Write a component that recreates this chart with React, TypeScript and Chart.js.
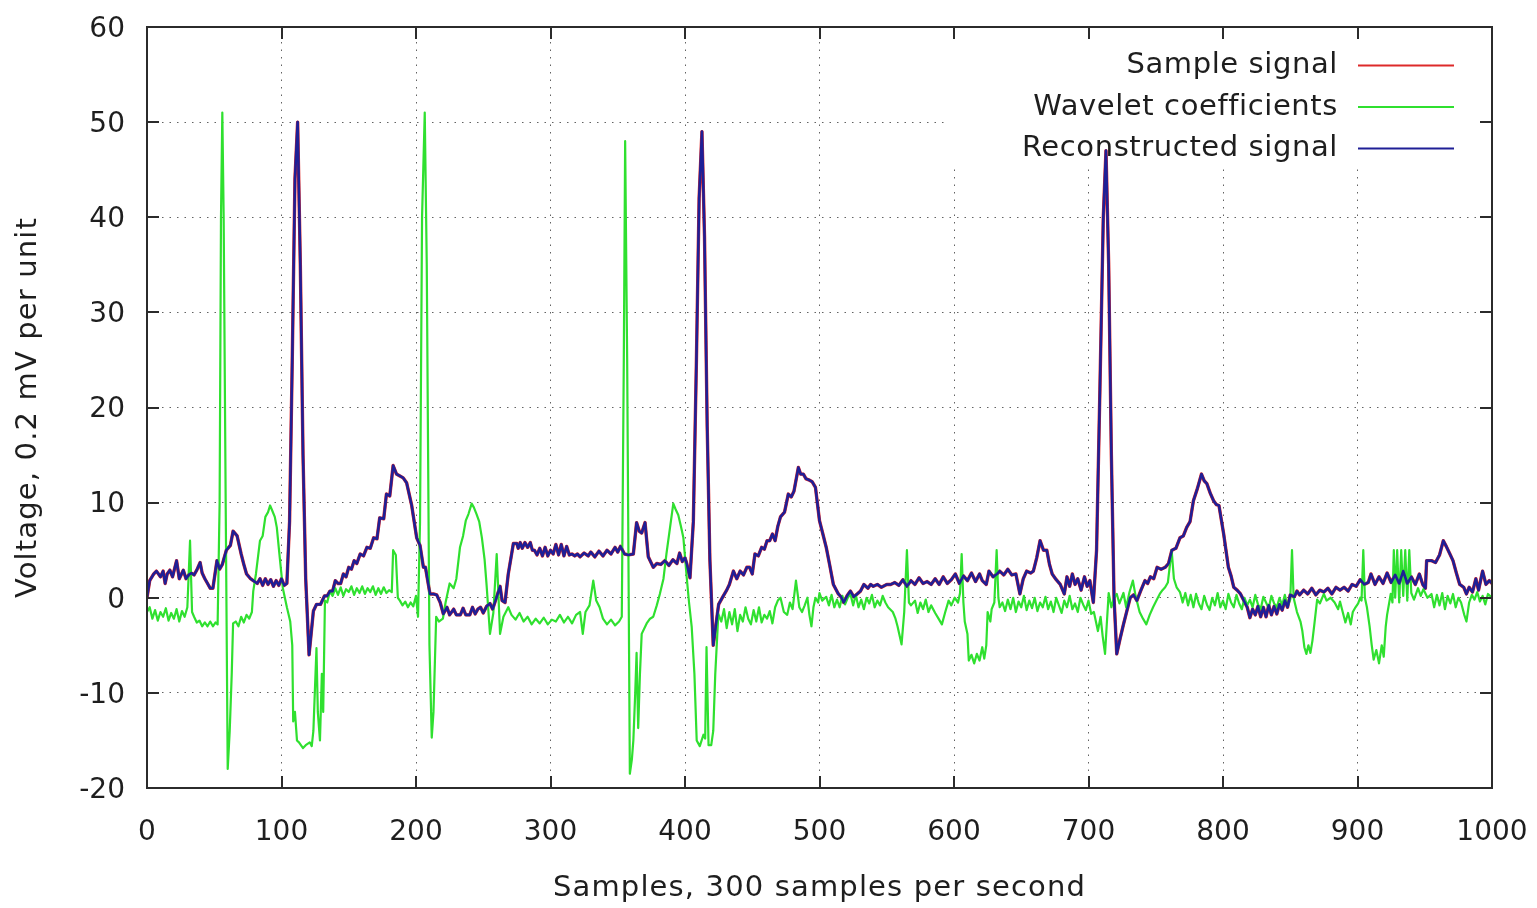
import { useEffect, useRef } from 'react';
import { Chart, registerables } from 'chart.js';

Chart.register(...registerables);

const seriesLabels = ['Sample signal', 'Wavelet coefficients', 'Reconstructed signal'];
const seriesColors = ['#dd2a2a', '#2fe02f', '#1f1f96'];
const xAxisTitle = 'Samples, 300 samples per second';
const yAxisTitle = 'Voltage, 0.2 mV per unit';
const xRange = [0, 1000];
const yRange = [-20, 60];
const xStep = 100;
const yStep = 10;

// Reconstructed signal [sample, value]
const reconstructedPoints: [number, number][] = [
  [0, 0], [2, 1.8], [5, 2.5], [7, 2.8], [10, 2.2], [12, 2.8], [13.5, 1.5], [15, 2.5], [17, 2.9], [19, 2.2],
  [22, 3.9], [24, 2.0], [27, 2.9], [29, 2.0], [31, 2.4], [33, 2.6], [35, 2.4], [37, 2.9], [39.5, 3.7], [41, 2.6],
  [43, 2.0], [45, 1.5], [47, 1.0], [49, 1.0], [52, 3.9], [54, 3.0], [56, 3.5], [59, 5.0], [62, 5.5], [64, 7.0],
  [67, 6.5], [70, 4.6], [72, 3.5], [74, 2.5], [77, 2.0], [79, 1.8], [82, 1.5], [84, 2.0], [86, 1.3], [88, 2.0],
  [90, 1.4], [92, 1.9], [94, 1.2], [96, 1.8], [98, 1.3], [100, 2.0], [102, 1.3], [104, 1.5], [106, 8], [108, 25],
  [110, 44], [112, 50], [114, 35], [116, 15], [118, 2], [120.5, -6], [123.7, -1.4], [126, -0.7], [129, -0.7], [132, 0.2],
  [134, 0.2], [136, 0.7], [138, 0.7], [140, 1.8], [142, 1.5], [144, 1.5], [146, 2.5], [148, 2.2], [150, 3.2], [152, 3.0],
  [154, 3.9], [156, 3.6], [158.5, 4.6], [161, 4.4], [163.5, 5.3], [166, 5.2], [168.5, 6.3], [171, 6.2], [173, 8.4], [176, 8.3],
  [178, 10.9], [180.5, 10.7], [183, 13.9], [185.5, 13.0], [188, 12.8], [190.5, 12.6], [193, 12.1], [196.8, 9.7], [200.5, 6.3], [203, 5.5],
  [205.5, 3.2], [207, 3.2], [210.4, 0.4], [213, 0.4], [215.4, 0.3], [218, -0.5], [220.3, -1.7], [223, -1.0], [225, -1.8], [228, -1.2],
  [230, -1.8], [233, -1.8], [235, -1.1], [237, -1.8], [240, -1.8], [242, -1.0], [244, -1.7], [246, -1.2], [248, -1.0], [250, -1.6],
  [252.5, -0.9], [255, -0.6], [257, -1.2], [260, 0.1], [262.5, 1.2], [264, -0.3], [266.2, -0.5], [268.6, 2.5], [272.4, 5.7], [275, 5.7],
  [276, 5.2], [277.5, 5.8], [279, 5.2], [281, 5.8], [283, 5.3], [285, 5.8], [286.5, 5.0], [288, 5.0], [290, 4.5], [292, 5.2],
  [294, 4.4], [296, 5.3], [298, 4.4], [300, 5.0], [302, 4.6], [304, 5.6], [306, 4.5], [308, 5.6], [310, 4.4], [312, 5.4],
  [314, 4.5], [316, 4.6], [318, 4.4], [320, 4.6], [322, 4.3], [325, 4.7], [328, 4.4], [330, 4.8], [333, 4.3], [336, 4.9],
  [339, 4.4], [342, 5.0], [345, 4.6], [348, 5.3], [350, 4.8], [352, 5.4], [355, 4.6], [358, 4.5], [361.6, 4.6], [364, 7.9],
  [366, 7.0], [367.8, 6.8], [370.3, 7.9], [372.7, 4.3], [376.4, 3.2], [379, 3.6], [382, 3.5], [385, 3.9], [388, 3.4], [391, 4.0],
  [394, 3.6], [396, 4.7], [398, 3.8], [400, 4.2], [401.3, 3.6], [403.7, 2.1], [406.2, 8], [408.5, 25], [410.5, 42], [412.6, 49],
  [414.5, 38], [416.5, 18], [418.5, 4], [421, -5], [425, -0.7], [428.5, 0.2], [431, 0.8], [433, 1.4], [436, 2.8], [438.5, 2.0],
  [441, 2.8], [443.5, 2.4], [446, 3.2], [448, 3.2], [450, 2.5], [452, 4.6], [454.5, 4.4], [457, 5.3], [459, 5.1], [461, 6.0],
  [463, 6.0], [465, 6.7], [467, 6.0], [469, 7.5], [471, 8.5], [474, 9.0], [476.8, 10.9], [479, 10.6], [481, 11.2], [484.3, 13.7],
  [486, 13.0], [488, 13.0], [490, 12.5], [492, 12.4], [494.5, 12.2], [497, 11.6], [500, 8.1], [502.5, 6.7], [505, 5.3], [507.5, 3.5],
  [510.3, 1.4], [514, 0.4], [516, 0.1], [518, -0.5], [520.5, 0.2], [523, 0.7], [525.5, 0.1], [528, 0.4], [530.5, 0.7], [533, 1.4],
  [536, 1.0], [538, 1.4], [540, 1.2], [543, 1.4], [546, 1.1], [550, 1.4], [553, 1.4], [556, 1.6], [559, 1.3], [562, 1.9],
  [565, 1.2], [568, 1.8], [571, 1.4], [574, 2.1], [577, 1.5], [580, 1.7], [583, 1.4], [586, 2.0], [589, 1.4], [592, 2.2],
  [595, 1.5], [598, 1.9], [601, 2.5], [604, 1.5], [607, 2.3], [610, 1.8], [613, 2.6], [616, 1.7], [619, 2.5], [621, 1.8],
  [624, 1.4], [626, 2.8], [629, 2.2], [632, 2.5], [634, 2.8], [637, 2.4], [640, 3.0], [643, 2.4], [646, 2.5], [649, 0.4],
  [651.5, 2.0], [654, 2.8], [657, 2.6], [659, 2.8], [661.5, 4.2], [664, 6.0], [666.5, 5.0], [669, 5.0], [671, 3.5], [673, 2.5],
  [676, 1.9], [679, 1.4], [682, 0.4], [684, 2.2], [686, 1.2], [688, 2.5], [690, 1.4], [692, 2.0], [694.5, 0.8], [697, 2.2],
  [699, 1.2], [701, 1.8], [703.6, -0.5], [706, 5], [708.5, 22], [711, 40], [713, 47], [715, 35], [717, 15], [719, 0],
  [721, -5.9], [723.5, -4.3], [726, -2.8], [728.5, -1.4], [731, 0], [733.5, 0.3], [736, -0.3], [739, 0.8], [742, 1.8], [744, 1.5],
  [746, 2.2], [748.5, 2.0], [751, 3.2], [754, 3.0], [757, 3.2], [759.5, 3.6], [762, 5.0], [765, 5.2], [768, 6.3], [770.5, 6.5],
  [773, 7.4], [775.5, 8.0], [778, 10.2], [781, 11.5], [784, 13.0], [786, 12.3], [788, 12.0], [790.5, 11.0], [793, 10.2], [795, 9.8],
  [797, 9.7], [800.5, 6.7], [804, 3.2], [806, 2.3], [808, 1.1], [810.5, 0.8], [813, 0.4], [815.5, -0.3], [818, -1.0], [820, -2.1],
  [822, -1.2], [824, -1.8], [826, -0.9], [828, -2.0], [830, -1.0], [832, -2.0], [834, -0.8], [836, -1.8], [838, -0.9], [840, -1.7],
  [842, -0.7], [844, -1.3], [846, -0.3], [848, -1.0], [850, 0.3], [853, 0.1], [855, 0.7], [857, 0.3], [860, 0.8], [863, 0.4],
  [866, 1.0], [869, 0.3], [872, 0.8], [875, 0.6], [878, 1.0], [881, 0.4], [884, 1.1], [887, 0.8], [890, 1.1], [893, 0.7],
  [896, 1.4], [899, 1.2], [902, 1.9], [905, 1.4], [908, 1.6], [910, 2.5], [913, 1.4], [916, 2.2], [919, 1.5], [922, 2.6],
  [925, 1.6], [928, 2.4], [931, 1.5], [934, 2.8], [937, 1.5], [940, 2.2], [943, 1.4], [946, 2.5], [948.5, 1.4], [950.5, 1.0],
  [951.4, 3.9], [955, 3.9], [958, 3.7], [961, 4.5], [963.8, 6.0], [966, 5.4], [968.7, 4.6], [971, 3.9], [973.5, 2.6], [976, 1.4],
  [979, 1.1], [981, 0.4], [983, 1.1], [985.5, 0.6], [988, 2.0], [990, 0.8], [993, 2.8], [995.5, 1.4], [998, 1.8], [1000, 1.5],
];

// The sample signal is hidden beneath the reconstruction in the picture
const samplePoints: [number, number][] = reconstructedPoints;

// Wavelet coefficients [sample, value]
const waveletPoints: [number, number][] = [
  [0, -1.5], [2, -1.0], [4, -2.2], [6, -1.3], [8, -2.4], [10, -1.5], [12, -2.0], [14, -1.1], [16, -2.4], [18, -1.6],
  [20, -2.2], [22, -1.2], [24, -2.5], [26, -1.4], [28, -2.0], [30, -1.0], [32, 6.0], [33.5, -1.5], [35, -2.0], [37, -2.6],
  [39, -2.4], [41, -3.0], [43, -2.6], [45, -3.0], [47, -2.5], [49, -3.0], [51, -2.6], [52.5, -2.8], [54, 10], [55, 40],
  [56, 51], [57, 40], [58.5, 10], [60, -18], [61.5, -14], [63, -8], [64, -2.7], [66, -2.5], [68, -3.0], [70, -2.0],
  [72, -2.6], [74, -1.8], [76, -2.2], [78, -1.5], [79, 0.7], [81, 2.5], [84, 6.0], [86, 6.5], [88, 8.5], [90, 9.0],
  [91.5, 9.7], [93, 9.2], [95, 8.5], [96.5, 7.4], [98.5, 4.5], [101, 1.0], [104, -1.0], [106.5, -2.5], [108, -5], [108.7, -13],
  [110, -12], [111.5, -15], [113, -15.2], [116, -15.8], [118, -15.5], [121, -15.2], [122.5, -15.6], [123.7, -14], [126, -5.3], [127, -12],
  [128.6, -15], [130, -8], [131, -12], [132.3, -0.3], [134, -0.5], [136, 0.7], [138, 0.2], [140, 1.0], [142, 0.3], [144, 1.1],
  [146, 0.2], [148, 0.9], [150, 0.6], [152, 1.2], [154, 0.3], [156, 1.0], [158, 0.5], [160, 1.2], [162, 0.4], [164, 1.0],
  [166, 0.6], [168, 1.2], [170, 0.3], [172, 1.0], [174, 0.4], [176, 1.1], [178, 0.5], [180, 0.8], [182, 0.6], [183, 5.0],
  [185, 4.5], [186.5, 0], [188, -0.3], [190, -0.8], [192, -0.4], [194, -1.0], [196, -0.5], [198, -0.9], [200, 0.2], [201.5, -2.0],
  [203, 8], [204.5, 40], [206.5, 51], [208, 35], [210, -5], [211.7, -14.7], [213, -12], [215, -2.0], [217, -2.5], [220, -2.2],
  [222, -0.5], [225, 1.5], [228, 1.0], [230, 2.0], [232.7, 5.3], [235, 6.5], [237, 8.1], [239, 8.8], [241.4, 9.9], [243, 9.5],
  [245, 8.8], [247, 8.0], [249, 6.3], [251, 4.0], [252.5, 1.3], [255, -3.8], [257.5, -1.6], [260, 4.6], [262.5, -3.8], [265, -2.0],
  [268.6, -1.0], [271, -1.8], [274, -2.3], [277, -1.6], [280, -2.5], [283, -2.0], [286, -2.8], [289, -2.2], [292, -2.7], [295, -2.1],
  [298, -2.8], [301, -2.3], [304, -2.5], [307, -1.8], [310, -2.6], [313, -2.0], [316, -2.7], [319, -1.8], [322, -1.5], [324, -3.8],
  [326, -1.5], [329, -0.8], [331.8, 1.8], [334, -0.3], [336.5, -1.0], [339, -2.2], [342, -2.8], [345, -2.3], [348, -2.9], [351, -2.5],
  [353, -2.0], [354.5, 25], [355.5, 48], [357, 25], [359, -18.5], [360.5, -17], [361.6, -15], [363, -10], [364, -5.8], [365.2, -13.7],
  [366.5, -8], [367.8, -3.8], [371.5, -2.7], [374, -2.2], [376.4, -2.0], [379, -0.8], [381.3, 0.4], [384, 2.0], [386.2, 4.6], [388.5, 7.0],
  [391.3, 9.9], [393, 9.3], [395, 8.7], [397, 7.5], [398.8, 6.3], [401.3, 2.1], [403, -0.5], [405, -3.1], [407, -8], [408.7, -15],
  [411, -15.6], [413.7, -14.4], [415, -14.8], [416, -5.2], [417.5, -15.5], [419.5, -15.5], [421, -14], [422.5, -8], [424.8, -1.7], [427, -2.5],
  [429, -1.2], [431, -3.2], [433, -1.5], [435, -2.8], [437, -1.2], [439, -3.5], [441, -1.8], [443, -2.5], [445, -1.0], [447, -2.2],
  [449, -2.8], [451, -1.3], [453, -2.5], [455, -1.0], [457, -2.6], [459, -1.8], [461, -2.2], [463, -1.4], [465, -2.7], [467, -1.0],
  [469, -0.3], [471, 0.0], [473.5, -1.5], [476, -1.8], [478, -0.5], [480, -1.2], [482.5, 1.8], [485, -1.0], [487, -1.5], [489, -0.8],
  [491, 0.0], [492.5, -1.8], [494, -3.0], [495.5, -1.0], [497, 0.0], [499, -0.5], [500, 0.5], [502, -0.3], [505, 0.1], [507, -0.8],
  [509, 0.3], [511, -1.0], [513, -0.2], [515, -1.0], [517, 0.2], [519, -0.7], [521, 0.0], [523, 0.4], [525, -0.8], [527, 0.3],
  [529, -1.0], [531, -0.2], [533, -1.2], [535, 0.0], [537, -0.6], [539, 0.3], [541, -1.0], [543, -0.3], [545, -0.8], [547, 0.2],
  [549, -0.5], [551, -1.0], [554.5, -1.5], [556.5, -2.2], [558, -3.0], [561, -4.9], [563, -1.5], [565, 5.0], [566.5, -0.5], [568, -0.8],
  [571, -0.3], [573, -1.6], [575, -0.5], [577, -1.2], [579, -0.2], [581, -1.5], [583, -0.8], [586, -1.6], [588.5, -2.2], [591, -2.8],
  [593.5, -1.5], [596, -0.3], [598, -0.8], [600.5, 0.0], [603, -0.5], [604.5, 0.5], [605.7, 4.6], [607, -0.5], [608, -2.5], [610, -3.8],
  [611, -6.6], [613, -6.0], [615, -6.9], [617, -5.9], [619, -6.6], [621, -5.2], [622.5, -6.4], [624, -5.0], [625, -1.5], [627, -2.5],
  [628, -1.2], [630, -0.5], [631.7, 5.0], [633, 0.0], [634, -1.0], [636, -0.5], [638, -1.4], [640, -0.2], [642, -1.2], [644, 0.0],
  [646, -1.5], [648, -0.4], [650, -1.0], [652, 0.2], [654, -1.3], [656, -0.3], [658, -1.1], [660, 0.0], [662, -1.4], [664, -0.5],
  [666, -1.0], [668, 0.1], [670, -1.2], [672, -0.4], [674, -1.5], [676, 0.0], [678, -0.8], [680, -1.6], [682, -0.3], [684, -1.0],
  [686, 0.2], [688, -1.2], [690, -0.6], [692, -1.5], [694, 0.0], [696, -0.7], [698, -1.3], [700, -0.3], [702, -1.7], [704, -1.5],
  [707, -3.5], [709, -2.0], [710.5, -4], [712.3, -5.9], [713.5, -3], [715, 0.5], [717, -1.0], [719, 0.0], [721, 0.4], [723, -0.6],
  [726, 0.5], [728, -1.0], [730.5, 0.6], [733, 1.8], [735, 0.2], [738, -1.5], [740.5, -2.2], [743, -2.8], [745.5, -1.8], [748, -1.0],
  [750.5, -0.3], [753, 0.4], [755, 0.8], [757, 1.1], [759, 1.6], [761.8, 5.0], [763.5, 2.0], [765.5, 1.1], [768, 0.6], [770, -0.5],
  [772, 0.5], [774, -0.8], [776, 0.3], [778, -1.0], [780, 0.4], [782, -0.6], [784, -1.2], [786, 0.2], [788, -0.7], [790, -1.3],
  [792, 0.0], [794, -0.8], [796, 0.5], [798, -1.0], [800, -0.3], [802, -1.2], [804, 0.4], [806, -0.5], [808, -1.0], [810, 0.3],
  [812, -0.6], [814, -1.2], [816, 0.0], [818, -0.8], [820, -0.2], [822, -1.0], [824, 0.3], [826, -0.7], [828, -1.2], [830, 0.1],
  [832, -0.5], [834, -1.1], [836, 0.2], [838, -0.6], [840, -1.0], [842, 0.0], [844, -0.8], [846, 0.3], [848, -0.9], [850, -0.2],
  [851.3, 5.0], [852.5, 0.0], [855, -1.5], [857.6, -2.5], [859, -3.5], [860.5, -5.2], [862, -5.9], [863.5, -5.0], [865, -5.8], [866.5, -4.5],
  [868, -2.7], [870, -0.2], [872, -0.6], [875, 0.4], [877, -0.3], [880, 0.0], [883, -0.5], [885.6, -1.2], [887, -0.4], [889, -1.5],
  [891, -2.6], [893, -1.6], [895, -2.8], [896.5, -1.5], [898.5, -1.0], [900.5, -0.6], [902, 0.0], [903, -0.3], [904.3, 5.0], [905.5, 0.0],
  [907, -1.0], [909, -3.0], [910.5, -4.9], [912, -6.5], [914, -5.5], [916, -6.9], [918, -5.0], [919.5, -6.2], [921, -3.0], [922, -1.8],
  [924.7, 0.4], [926, -0.5], [927, 5.0], [928, 0.0], [929.5, 5.0], [931, -0.5], [932.5, 5.0], [934, 0.2], [935.5, 5.0], [937, -0.3],
  [938.5, 5.0], [940, 0.5], [942, -0.2], [945, 1.0], [947, 0.2], [949, 0.9], [952, 0.0], [955, 0.4], [957, -1.0], [959, 0.3],
  [961, -0.8], [963, 0.5], [965, -1.2], [967, 0.2], [969, -0.6], [971, 0.4], [973, -1.0], [975, 0.0], [977, -0.5], [979.4, -1.8],
  [981, -2.5], [983, -0.5], [985, 0.3], [987, -0.2], [989, 0.6], [991, -0.4], [993, 0.2], [995, -0.7], [997, 0.4], [1000, 0.0],
];

const FONT = "'DejaVu Sans', 'Liberation Sans', sans-serif";
const TEXT_COLOR = '#1e1e1e';

const gnuplotFrame = {
  id: 'gnuplotFrame',
  beforeDatasetsDraw(chart: any) {
    const { ctx, chartArea: a } = chart;
    ctx.save();
    ctx.fillStyle = '#ffffff';
    ctx.fillRect(a.right - 544, a.top + 1, 543, 137);
    ctx.restore();
  },
  afterDatasetsDraw(chart: any) {
    const { ctx, chartArea: a, scales } = chart;
    ctx.save();
    ctx.strokeStyle = '#2b2b2b';
    ctx.lineWidth = 2;
    ctx.strokeRect(a.left, a.top, a.right - a.left, a.bottom - a.top);
    ctx.beginPath();
    const tl = 12;
    for (const t of scales.x.ticks) {
      const px = Math.round(scales.x.getPixelForValue(t.value));
      ctx.moveTo(px, a.bottom);
      ctx.lineTo(px, a.bottom - tl);
      ctx.moveTo(px, a.top);
      ctx.lineTo(px, a.top + tl);
    }
    for (const t of scales.y.ticks) {
      const py = Math.round(scales.y.getPixelForValue(t.value));
      ctx.moveTo(a.left, py);
      ctx.lineTo(a.left + tl, py);
      ctx.moveTo(a.right, py);
      ctx.lineTo(a.right - tl, py);
    }
    ctx.stroke();

    // key
    ctx.font = `29px ${FONT}`;
    (ctx as any).letterSpacing = '0.6px';
    ctx.textAlign = 'right';
    ctx.textBaseline = 'middle';
    chart.data.datasets.forEach((ds: any, i: number) => {
      const y = a.top + 38.5 + i * 41.5;
      ctx.fillStyle = TEXT_COLOR;
      ctx.fillText(ds.label, a.right - 154, y);
      ctx.strokeStyle = ds.borderColor;
      ctx.lineWidth = 2;
      ctx.beginPath();
      ctx.moveTo(a.right - 134, y);
      ctx.lineTo(a.right - 38, y);
      ctx.stroke();
    });

    // axis titles
    (ctx as any).letterSpacing = '1.15px';
    ctx.textAlign = 'center';
    ctx.fillStyle = TEXT_COLOR;
    ctx.fillText(xAxisTitle, (a.left + a.right) / 2, scales.x.bottom - 20);
    ctx.translate(scales.y.left + 28, (a.top + a.bottom) / 2);
    ctx.rotate(-Math.PI / 2);
    ctx.fillText(yAxisTitle, 0, 0);
    ctx.restore();
    (ctx as any).letterSpacing = '0px';
  },
};

export default function App() {
  const canvasRef = useRef<HTMLCanvasElement | null>(null);

  useEffect(() => {
    if (!canvasRef.current) return;
    const toXY = (pts: [number, number][]) => pts.map(([x, y]) => ({ x, y }));
    const chart = new Chart(canvasRef.current, {
      type: 'line',
      data: {
        datasets: [
          {
            label: seriesLabels[0],
            data: toXY(samplePoints),
            borderColor: seriesColors[0],
            borderWidth: 3.4,
            order: 2,
          },
          {
            label: seriesLabels[1],
            data: toXY(waveletPoints),
            borderColor: seriesColors[1],
            borderWidth: 2.2,
            order: 1,
          },
          {
            label: seriesLabels[2],
            data: toXY(reconstructedPoints),
            borderColor: seriesColors[2],
            borderWidth: 2.6,
            order: 0,
          },
        ] as any,
      },
      options: {
        animation: false,
        responsive: false,
        devicePixelRatio: 1,
        parsing: false as any,
        elements: {
          point: { radius: 0, hoverRadius: 0 },
          line: { tension: 0, borderJoinStyle: 'round' as any },
        },
        layout: { padding: { top: 27, right: 45, bottom: 0, left: 0 } },
        plugins: {
          legend: { display: false },
          tooltip: { enabled: false },
          title: { display: false },
        },
        events: [],
        scales: {
          x: {
            type: 'linear',
            min: xRange[0],
            max: xRange[1],
            afterFit: (s: any) => {
              s.height = 120;
              s.paddingLeft = 0;
              s.paddingRight = 0;
            },
            ticks: {
              stepSize: xStep,
              padding: 28,
              color: TEXT_COLOR,
              font: { family: FONT, size: 28 },
              maxRotation: 0,
              autoSkip: false,
              callback: (v: any) => String(v),
            },
            grid: { drawTicks: false, color: 'rgba(70,70,70,0.85)', lineWidth: 1 },
            border: { display: false, dash: [1.5, 6] },
            title: { display: false },
          },
          y: {
            type: 'linear',
            min: yRange[0],
            max: yRange[1],
            afterFit: (s: any) => {
              s.width = 147;
              s.paddingTop = 0;
              s.paddingBottom = 0;
            },
            ticks: {
              stepSize: yStep,
              padding: 22,
              labelOffset: 2.5,
              color: TEXT_COLOR,
              font: { family: FONT, size: 28 },
              autoSkip: false,
              callback: (v: any) => String(v),
            },
            grid: { drawTicks: false, color: 'rgba(70,70,70,0.85)', lineWidth: 1 },
            border: { display: false, dash: [1.5, 6] },
            title: { display: false },
          },
        },
      },
      plugins: [gnuplotFrame],
    } as any);
    return () => chart.destroy();
  }, []);

  return (
    <div style={{ position: 'absolute', left: 0, top: 0, width: 1537, height: 908, background: '#fff' }}>
      <canvas ref={canvasRef} width={1537} height={908} style={{ display: 'block' }} />
    </div>
  );
}
